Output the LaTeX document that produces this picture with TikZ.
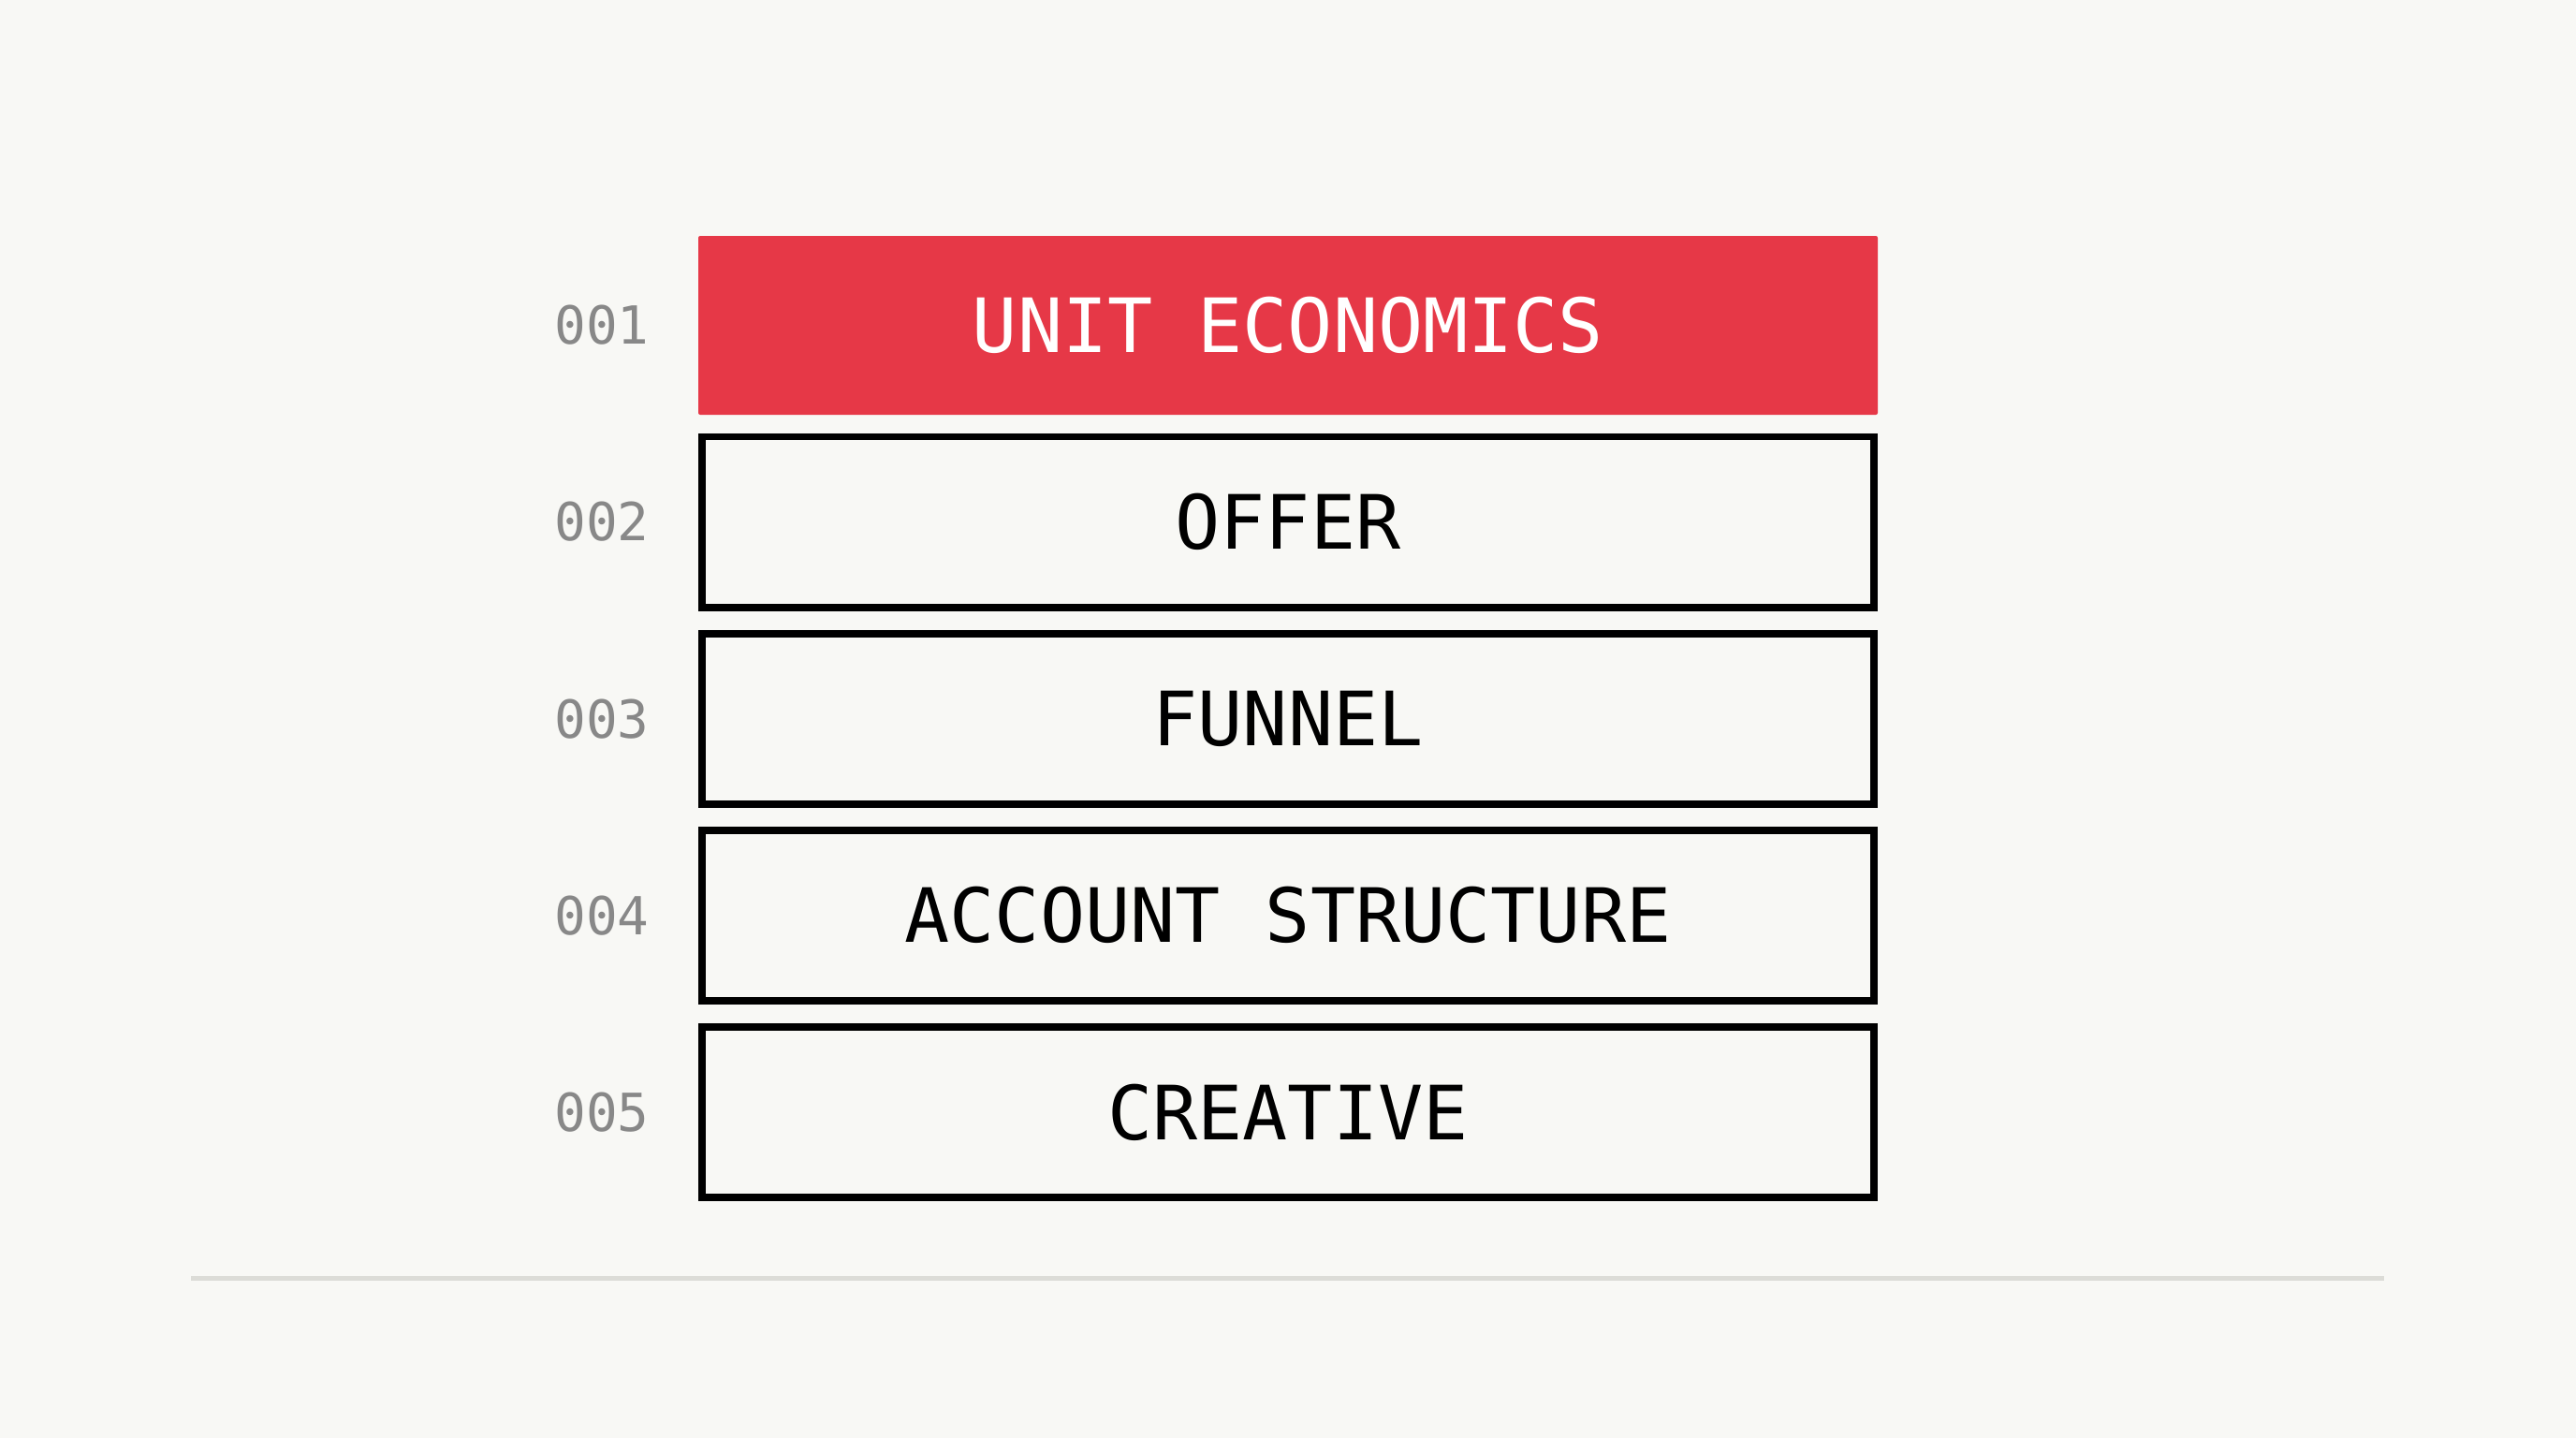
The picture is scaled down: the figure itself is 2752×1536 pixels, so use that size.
\documentclass[tikz,border=0pt]{standalone}
\usepackage{fontspec}
\setmonofont{DejaVu Sans Mono}
\definecolor{bgc}{HTML}{F8F8F5}
\definecolor{redc}{HTML}{E63847}
\definecolor{numc}{HTML}{888888}
\definecolor{linec}{HTML}{DCDCD7}
\begin{document}
\begin{tikzpicture}[x=0.5pt,y=-0.5pt,
  stepbox/.style={draw=black, line width=3.9pt, fill=bgc, minimum width=626.1pt,
    minimum height=91.1pt, inner sep=0pt, text=black,
    font=\ttfamily\fontsize{40}{42}\selectfont},
  redbox/.style={fill=redc, rounded corners=1pt, minimum width=630pt,
    minimum height=95.5pt, inner sep=0pt, text=white,
    font=\ttfamily\fontsize{40}{42}\selectfont},
  numlbl/.style={anchor=east, inner sep=0pt, text=numc,
    font=\ttfamily\fontsize{28}{30}\selectfont}]
\fill[bgc] (0,0) rectangle (2752,1536);
\useasboundingbox (0,0) rectangle (2752,1536);
\node[redbox] (b1) at (1376,347.5) {UNIT ECONOMICS};
\node[stepbox] (b2) at (1376,557.6) {OFFER};
\node[stepbox] (b3) at (1376,767.7) {FUNNEL};
\node[stepbox] (b4) at (1376,977.8) {ACCOUNT STRUCTURE};
\node[stepbox] (b5) at (1376,1187.9) {CREATIVE};
\node[numlbl] (n1) at (694,347.5) {001};
\node[numlbl] (n2) at (694,557.6) {002};
\node[numlbl] (n3) at (694,767.7) {003};
\node[numlbl] (n4) at (694,977.8) {004};
\node[numlbl] (n5) at (694,1187.9) {005};
\coordinate (l1) at (204,1365.5);
\coordinate (l2) at (2547,1365.5);
\draw[linec, line width=2.25pt] (l1) -- (l2);
\end{tikzpicture}
\end{document}
